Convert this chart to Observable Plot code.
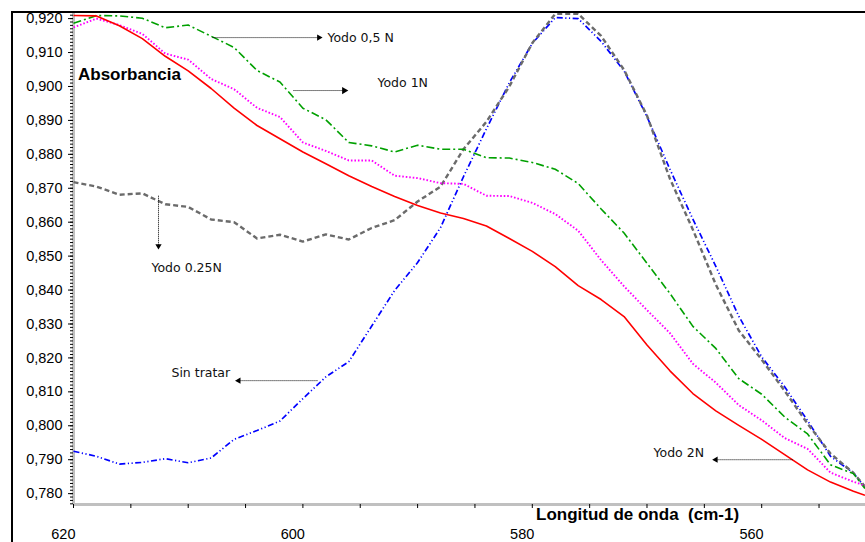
<!DOCTYPE html>
<html><head><meta charset="utf-8">
<script src="https://cdn.jsdelivr.net/npm/d3@7"></script>
<script src="https://cdn.jsdelivr.net/npm/@observablehq/plot@0.6"></script>
<style>
html,body{margin:0;padding:0;background:#fff;}
#wrap{position:relative;width:865px;height:542px;overflow:hidden;}
#border{position:absolute;left:11px;top:11px;width:900px;height:600px;border-left:2.5px solid #000;border-top:2.5px solid #000;pointer-events:none;}
</style></head><body>
<div id="wrap"><div id="chart"></div><div id="border"></div></div>
<script>
// wavenumber grid (cm-1)
const wavenumbers = [620,618,616,614,612,610,608,606,604,602,600,598,596,594,592,590,588,586,584,582,580,578,576,574,572,570,568,566,564,562,560,558,556,554,552,551];

const yodo2N = [0.9209,0.9208,0.9179,0.9141,0.9089,0.9046,0.8994,0.8936,0.8885,0.8846,0.8807,0.8772,0.8737,0.8705,0.8676,0.8649,0.8627,0.8611,0.8589,0.8552,0.8514,0.8469,0.8413,0.8372,0.8322,0.8238,0.8162,0.8095,0.8044,0.8001,0.7960,0.7915,0.7870,0.7834,0.7807,0.7795];
const yodo1N = [0.9174,0.9200,0.9181,0.9155,0.9097,0.9079,0.9022,0.8992,0.8937,0.8910,0.8835,0.8810,0.8782,0.8782,0.8737,0.8730,0.8715,0.8713,0.8678,0.8677,0.8657,0.8624,0.8575,0.8488,0.8411,0.8341,0.8273,0.8183,0.8127,0.8061,0.8016,0.7964,0.7932,0.7862,0.7835,0.7824];
const yodo05N = [0.9186,0.9209,0.9208,0.9201,0.9173,0.9181,0.9148,0.9115,0.9047,0.9013,0.8936,0.8902,0.8835,0.8825,0.8807,0.8827,0.8815,0.8815,0.8790,0.8789,0.8776,0.8756,0.8714,0.8639,0.8568,0.8479,0.8390,0.8293,0.8228,0.8139,0.8093,0.8026,0.7976,0.7885,0.7859,0.7815];
const yodo025N = [0.8718,0.8705,0.8681,0.8685,0.8653,0.8645,0.8608,0.8600,0.8552,0.8563,0.8543,0.8564,0.8549,0.8583,0.8606,0.8661,0.8705,0.8815,0.8896,0.9000,0.9128,0.9214,0.9214,0.9149,0.9049,0.8914,0.8728,0.8578,0.8416,0.8281,0.8195,0.8103,0.8006,0.7918,0.7861,0.7821];
const sinTratar = [0.7925,0.7910,0.7887,0.7892,0.7903,0.7891,0.7905,0.7960,0.7986,0.8014,0.8080,0.8144,0.8189,0.8294,0.8399,0.8481,0.8584,0.8734,0.8875,0.9011,0.9127,0.9203,0.9200,0.9133,0.9046,0.8911,0.8756,0.8609,0.8470,0.8323,0.8203,0.8115,0.8015,0.7910,0.7861,0.7819];

// axis ticks
const yTickValues = [0.78,0.79,0.80,0.81,0.82,0.83,0.84,0.85,0.86,0.87,0.88,0.89,0.90,0.91,0.92];
const xTickLabels = [620,600,580,560];
const xMinorTicks = [620,615,610,605,600,595,590,585,580,575,570,565,560,555];

// annotations (data coordinates)
const annoText = ["Yodo 0,5 N","Yodo 1N","Yodo 0.25N","Sin tratar","Yodo 2N"];
const annoX = [597.86,593.50,613.20,611.46,569.43];
const annoY = [0.91425,0.90114,0.84647,0.81567,0.79209];
const arrowX1 = [607.88,600.82,612.59,598.73,557.31];
const arrowX2 = [598.60,596.40,612.59,605.60,564.00];
const arrowY1 = [0.9144,0.8988,0.8678,0.8133,0.7900];
const arrowY2 = [0.9144,0.8988,0.8530,0.8133,0.7900];
const arrowRot = [90,90,180,-90,-90];
const arrowSize = [2.6,3.4,2.6,2.6,2.6];

const series = [
  {name:"Sin tratar", values:sinTratar, color:"#0000ff", width:1.7, dash:"6,2.5,1.2,2.5,1.2,2.5"},
  {name:"Yodo 0.25N", values:yodo025N, color:"#6b6b6b", width:2.4, dash:"5,3"},
  {name:"Yodo 0,5 N", values:yodo05N, color:"#00a000", width:1.6, dash:"8,3,2,3"},
  {name:"Yodo 1N", values:yodo1N, color:"#ff00ff", width:1.9, dash:"1.6,1.9"},
  {name:"Yodo 2N", values:yodo2N, color:"#ff0000", width:1.6, dash:null}
];

const lineMarks = series.map(s => Plot.line(
  wavenumbers.map((w,i) => ({x:w, y:s.values[i]})),
  {x:"x", y:"y", stroke:s.color, strokeWidth:s.width, strokeDasharray:s.dash, strokeLinecap:"butt", clip:true}
));

const annos = annoText.map((t,i)=>({t, x:annoX[i], y:annoY[i]}));
const arrows = arrowX1.map((d,i)=>({x1:arrowX1[i], x2:arrowX2[i], y1:arrowY1[i], y2:arrowY2[i], rot:arrowRot[i], r:arrowSize[i]}));

const fmt = d => d.toFixed(3).replace(".", ",");
const minorY = d3.range(777, 922).map(d => d/1000);

const chart = Plot.plot({
  width: 865, height: 542,
  marginLeft: 73, marginRight: 0, marginTop: 12, marginBottom: 38,
  x: {domain:[620, 550.95], label:null},
  y: {domain:[0.7768, 0.9218], label:null},
  style: {fontFamily:"'Liberation Sans', Arial, sans-serif", background:"transparent", color:"#000"},
  marks: [
    Plot.ruleX([620], {stroke:"#c0c0c0", strokeWidth:3}),
    Plot.ruleY([0.7768], {stroke:"#c0c0c0", strokeWidth:3}),
    Plot.axisY(minorY, {tickSize:3, tickFormat:()=>"", stroke:"#000", strokeWidth:1}),
    Plot.axisY(yTickValues, {tickSize:5, tickPadding:6, tickFormat:fmt, fontSize:14.5, stroke:"#000", fill:"#000"}),
    Plot.axisX(xMinorTicks, {tickSize:4, tickFormat:()=>"", stroke:"#000"}),
    Plot.axisX(xTickLabels, {tickSize:0, tickPadding:24, textAnchor:"end", dx:2, tickFormat:d=>String(d), fontSize:14.5, fill:"#000"}),
    ...lineMarks,
    Plot.link(arrows, {x1:"x1", y1:"y1", x2:"x2", y2:"y2", stroke:"#000", strokeWidth:1, strokeDasharray:"1,1"}),
    Plot.dot(arrows, {x:"x2", y:"y2", symbol:"triangle2", r:"r", rotate:"rot", fill:"#000"}),
    Plot.text(annos, {x:"x", y:"y", text:"t", textAnchor:"start", lineAnchor:"middle", fontSize:12.5, fontFamily:"'DejaVu Sans', Verdana, sans-serif", fill:"#111"})
  ]
});

document.getElementById("chart").appendChild(chart);
const svg = d3.select(chart);
svg.append("text").attr("x", 78).attr("y", 80).attr("font-size", 17).attr("font-weight", "bold")
  .attr("text-anchor", "start")
  .attr("font-family", "'Liberation Sans', Arial, sans-serif").attr("fill", "#000").text("Absorbancia");
svg.append("text").attr("x", 536).attr("y", 520).attr("font-size", 17).attr("font-weight", "bold")
  .attr("text-anchor", "start")
  .attr("font-family", "'Liberation Sans', Arial, sans-serif").attr("fill", "#000")
  .style("white-space","pre").text("Longitud de onda  (cm-1)");
</script>
</body></html>
